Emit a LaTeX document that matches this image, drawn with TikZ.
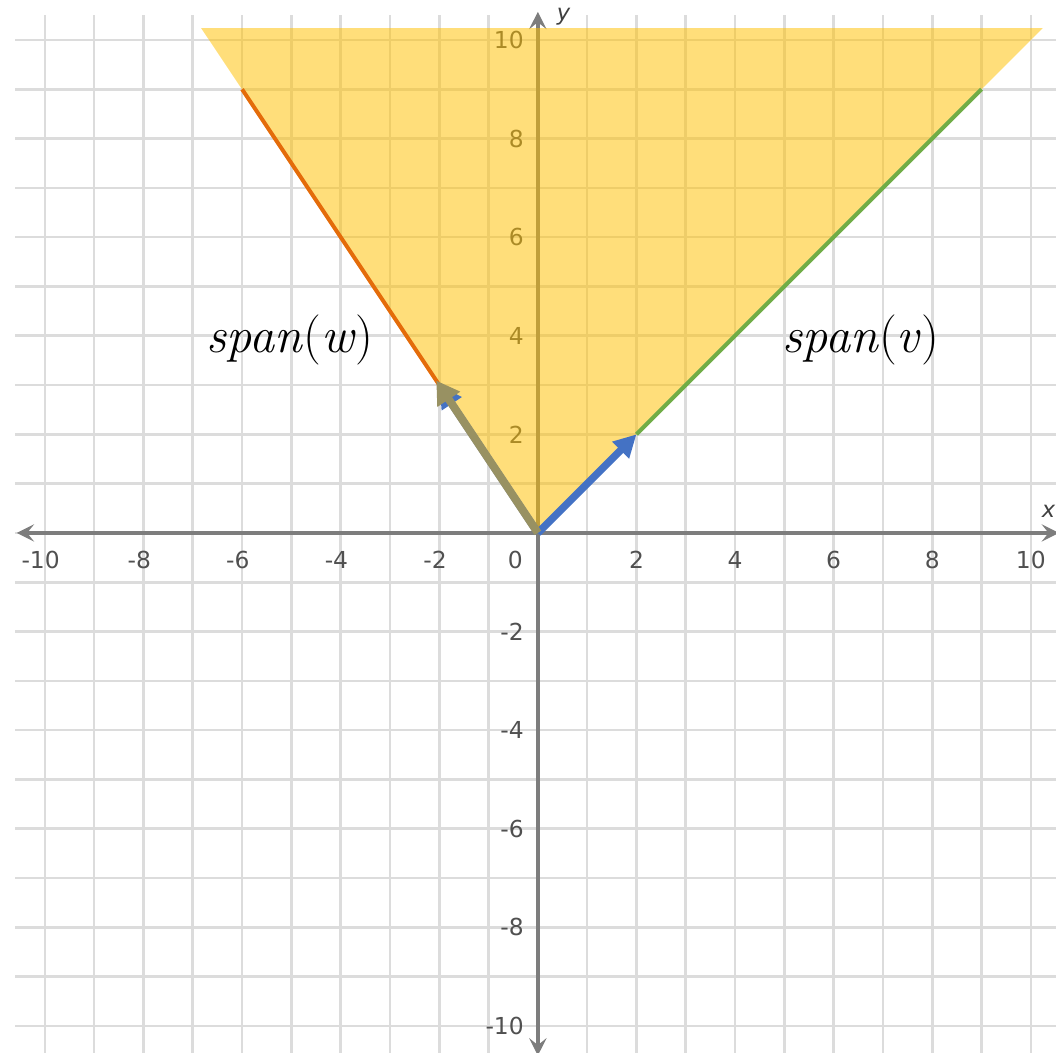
\documentclass[tikz,border=0pt]{standalone}
\usepackage{fontspec}
\newfontfamily\tickfont{DejaVu Sans}
\usetikzlibrary{arrows.meta,calc}

\definecolor{gridgray}{RGB}{220,220,220}
\definecolor{axisgray}{RGB}{125,125,125}
\definecolor{ticktext}{RGB}{80,80,80}
\definecolor{conefill}{RGB}{255,192,0}
\definecolor{wline}{RGB}{228,108,10}
\definecolor{vline}{RGB}{112,173,71}
\definecolor{vecblue}{RGB}{68,114,196}
\definecolor{wvec}{RGB}{152,145,98}

\begin{document}
\begin{tikzpicture}[
    x=1cm, y=1cm,
    >=Stealth, % 坐标轴箭头
    tick/.style={font=\tickfont\fontsize{13.5}{15}\selectfont, text=ticktext, inner sep=0pt},
    axislabel/.style={font=\tickfont\itshape\fontsize{13}{15}\selectfont, text=black!75, inner sep=0pt},
    spanlabel/.style={font=\fontsize{29}{32}\selectfont, inner sep=0pt},
    axisline/.style={axisgray, line width=2.2pt,
        {Stealth[length=10pt,width=10pt,inset=4pt]}-{Stealth[length=10pt,width=10pt,inset=4pt]}},
    vecarrow/.style={line width=4.3pt, -{Triangle[length=13pt,width=13pt]}}
]
    \useasboundingbox (-10.91,-10.53) rectangle (10.51,10.81);

    % --- 定义坐标 ---
    % 原点
    \coordinate (O) at (0,0);
    % 向量 v 与 w
    \coordinate (V) at (2,2);
    \coordinate (W) at (-2,3);
    % 张成直线的终点
    \coordinate (Vend) at (9,9);
    \coordinate (Wend) at (-6,9);
    % 锥形区域的上边界
    \coordinate (TL) at (-6.83,10.24);
    \coordinate (TR) at (10.24,10.24);
    % 坐标轴端点
    \coordinate (XL) at (-10.57,0);
    \coordinate (XR) at (10.57,0);
    \coordinate (YB) at (0,-10.6);
    \coordinate (YT) at (0,10.57);

    % --- 绘制图形 ---

    % 1. 网格
    \draw[gridgray, line width=1.5pt] (-10.6,-10.6) grid (10.6,10.5);

    % 2. 坐标轴
    \draw[axisline] (XL) -- (XR);
    \draw[axisline] (YB) -- (YT);
    \node[axislabel, anchor=south east] (xlab) at (10.5,0.3) {x};
    \node[axislabel, anchor=south west] (ylab) at (0.38,10.3) {y};

    % 3. 刻度数字
    \foreach \k in {2,4,...,10} {
        \node[tick, anchor=north] (xp\k) at (\k,-0.37) {\k};
        \node[tick, anchor=north] (xn\k) at (-\k,-0.37) {\llap{-}\k};
        \node[tick, anchor=east] (yp\k) at (-0.28,\k) {\k};
        \node[tick, anchor=east] (yn\k) at (-0.28,-\k) {-\k};
    }
    \node[tick, anchor=north east] (zero) at (-0.3,-0.37) {0};

    % 4. 锥形区域 (半透明)
    \fill[conefill, fill opacity=0.52] (O) -- (TL) -- (TR) -- cycle;

    % 5. 张成直线
    \draw[wline, line width=2.3pt] (W) -- (Wend);
    \draw[vline, line width=2.3pt] (V) -- (Vend);

    % 6. 向量箭头
    \draw[vecblue, vecarrow] (O) -- (V);
    \draw[vecblue, vecarrow] (O) -- (W);
    \draw[wvec, line width=4.6pt, -{Triangle[length=13pt,width=15pt]}] (O) -- ($(O)!1.03!(W)$);

    % --- 文字标签 ---
    \node[spanlabel] (spanw) at (-5.03,3.91) {\textit{span}(\textit{w})};
    \node[spanlabel] (spanv) at (6.55,3.91) {\textit{span}(\textit{v})};
\end{tikzpicture}
\end{document}
